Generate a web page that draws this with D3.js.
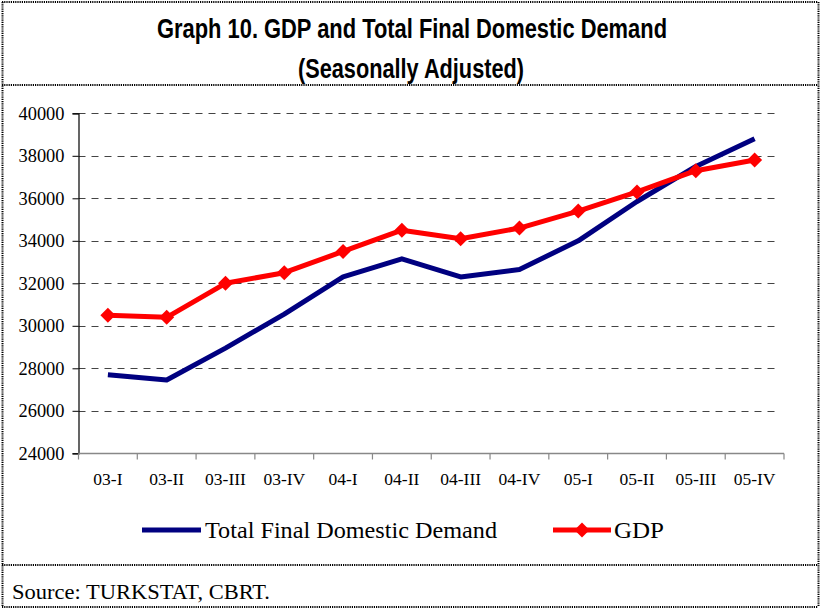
<!DOCTYPE html>
<html>
<head>
<meta charset="utf-8">
<script src="https://cdn.jsdelivr.net/npm/d3@7"></script>
<style>
  html, body { margin: 0; padding: 0; background: #fff; }
  svg { display: block; }
</style>
</head>
<body>
<svg id="chart" width="820" height="610"></svg>
<script>
const categories = ["03-I","03-II","03-III","03-IV","04-I","04-II","04-III","04-IV","05-I","05-II","05-III","05-IV"];
const demandValues = [27700,27450,28950,30550,32300,33150,32300,32650,34000,35850,37500,38800];
const gdpValues = [30500,30400,32000,32500,33500,34500,34100,34600,35400,36300,37300,37800];
const yTicks = [24000,26000,28000,30000,32000,34000,36000,38000,40000];
const titleLines = ["Graph 10. GDP and Total Final Domestic Demand", "(Seasonally Adjusted)"];
const seriesNames = ["Total Final Domestic Demand", "GDP"];
const sourceText = "Source: TURKSTAT, CBRT.";

const svg = d3.select("#chart");
const serif = "'Liberation Serif','Times New Roman',serif";
const narrow = "'Liberation Sans Narrow','Arial Narrow','Liberation Sans',Arial,sans-serif";

// frame (dotted borders)
const frame = svg.append("g").attr("stroke", "#000").attr("stroke-width", 2).attr("stroke-dasharray", "1.2,1");
[[2, 2, 818, 2], [2, 85, 818, 85], [2, 565, 818, 565], [2, 607, 818, 607],
 [2.5, 2, 2.5, 607], [818.5, 2, 818.5, 607]].forEach(l => {
  frame.append("line").attr("x1", l[0]).attr("y1", l[1]).attr("x2", l[2]).attr("y2", l[3]);
});

// title
svg.append("text").attr("x", 412).attr("y", 38).attr("text-anchor", "middle")
  .attr("font-family", narrow).attr("font-weight", "bold").attr("font-size", 27)
  .attr("textLength", 510).attr("lengthAdjust", "spacingAndGlyphs").text(titleLines[0]);
svg.append("text").attr("x", 411).attr("y", 78).attr("text-anchor", "middle")
  .attr("font-family", narrow).attr("font-weight", "bold").attr("font-size", 27)
  .attr("textLength", 226).attr("lengthAdjust", "spacingAndGlyphs").text(titleLines[1]);

// scales
const x = d3.scaleBand().domain(categories).range([78.5, 784]).paddingInner(0).paddingOuter(0);
const y = d3.scaleLinear().domain([24000, 40000]).range([453.3, 113.3]);

// gridlines
svg.append("g").selectAll("line").data(yTicks.filter(t => t > 24000)).join("line")
  .attr("x1", 78.5).attr("x2", 778)
  .attr("y1", d => Math.round(y(d)) + 0.5).attr("y2", d => Math.round(y(d)) + 0.5)
  .attr("stroke", "#444").attr("stroke-width", 1).attr("stroke-dasharray", "7,6");

// y axis
const yAxis = svg.append("g").attr("transform", "translate(78.5,0)")
  .call(d3.axisLeft(y).tickValues(yTicks).tickSize(6).tickPadding(8).tickFormat(d3.format("d")));
yAxis.select(".domain").attr("stroke", "#000").attr("stroke-width", 1.2);
yAxis.selectAll(".tick line").attr("stroke", "#000");
yAxis.selectAll("text").attr("font-family", serif).attr("font-size", 18).attr("fill", "#000")
  .attr("textLength", 46).attr("lengthAdjust", "spacingAndGlyphs");

// x axis
const xAxis = svg.append("g").attr("transform", "translate(0,453.5)")
  .call(d3.axisBottom(x).tickSize(0).tickPadding(19));
xAxis.select(".domain").remove();
xAxis.append("line").attr("x1", 78.5).attr("x2", 784).attr("y1", 0).attr("y2", 0)
  .attr("stroke", "#888").attr("stroke-width", 1.5);
xAxis.selectAll(".xtick").data(d3.range(categories.length + 1)).join("line")
  .attr("class", "xtick")
  .attr("x1", i => i < categories.length ? x(categories[i]) : x.range()[1])
  .attr("x2", i => i < categories.length ? x(categories[i]) : x.range()[1])
  .attr("y1", 0).attr("y2", 6).attr("stroke", "#888").attr("stroke-width", 1.2);
xAxis.selectAll(".tick text").attr("font-family", serif).attr("font-size", 17.5).attr("fill", "#000");

const cx = c => x(c) + x.bandwidth() / 2;
const line = d3.line().x(d => cx(d.c)).y(d => y(d.v));

const demand = categories.map((c, i) => ({ c, v: demandValues[i] }));
const gdp = categories.map((c, i) => ({ c, v: gdpValues[i] }));

svg.append("path").datum(demand).attr("d", line).attr("fill", "none")
  .attr("stroke", "#000080").attr("stroke-width", 5).attr("stroke-linejoin", "round");
svg.append("path").datum(gdp).attr("d", line).attr("fill", "none")
  .attr("stroke", "#ff0000").attr("stroke-width", 5).attr("stroke-linejoin", "round");

const diamond = (px, py, r) => `M${px},${py - r}L${px + r},${py}L${px},${py + r}L${px - r},${py}Z`;
svg.append("g").selectAll("path").data(gdp).join("path")
  .attr("d", d => diamond(cx(d.c), y(d.v), 7.5)).attr("fill", "#ff0000");

// legend
const lg = svg.append("g");
lg.append("line").attr("x1", 142).attr("x2", 201).attr("y1", 530).attr("y2", 530)
  .attr("stroke", "#000080").attr("stroke-width", 5);
lg.append("text").attr("x", 205).attr("y", 538).attr("font-family", serif).attr("font-size", 23)
  .attr("textLength", 292).attr("lengthAdjust", "spacingAndGlyphs").text(seriesNames[0]);
lg.append("line").attr("x1", 553).attr("x2", 611).attr("y1", 530).attr("y2", 530)
  .attr("stroke", "#ff0000").attr("stroke-width", 5);
lg.append("path").attr("d", diamond(582, 530, 7.5)).attr("fill", "#ff0000");
lg.append("text").attr("x", 614).attr("y", 538).attr("font-family", serif).attr("font-size", 23)
  .attr("textLength", 50).attr("lengthAdjust", "spacingAndGlyphs").text(seriesNames[1]);

// source
svg.append("text").attr("x", 12).attr("y", 598.5).attr("font-family", serif).attr("font-size", 20)
  .attr("textLength", 258).attr("lengthAdjust", "spacingAndGlyphs").text(sourceText);
</script>
</body>
</html>
